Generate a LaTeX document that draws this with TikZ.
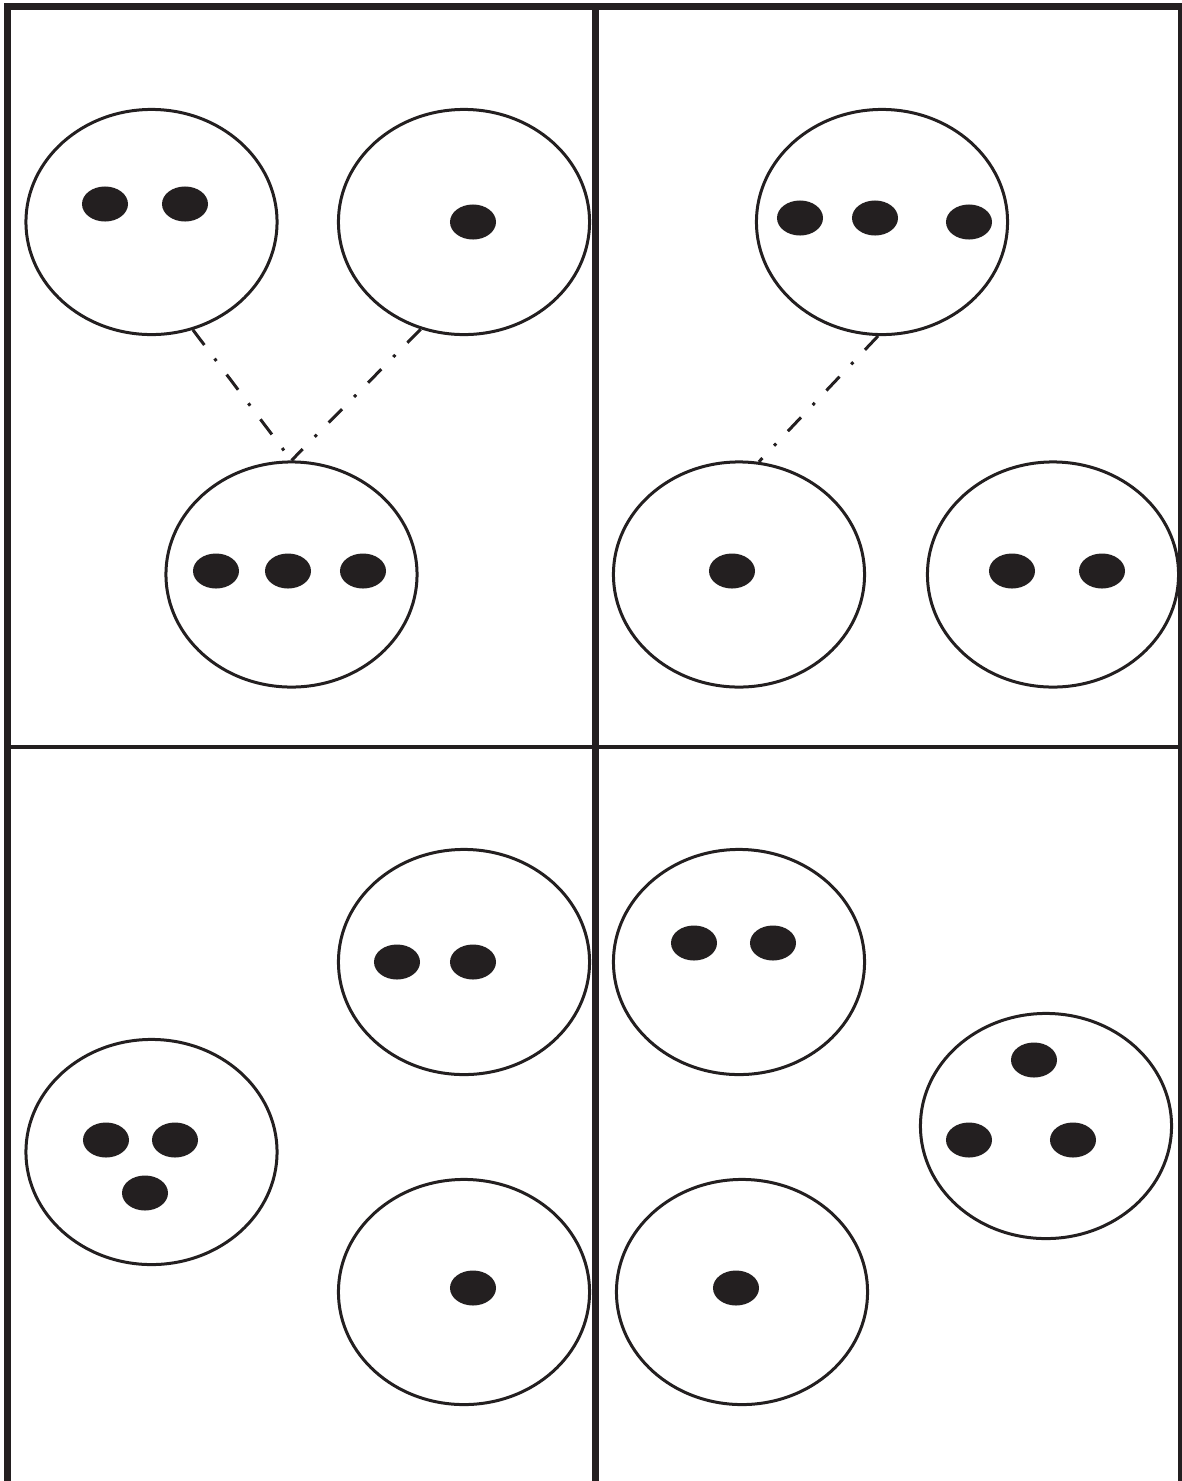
\documentclass[tikz,border=0pt]{standalone}
\usepackage{tikz}
\usetikzlibrary{shapes.geometric}
\definecolor{ink}{HTML}{231F20}

\begin{document}
\begin{tikzpicture}[
  x=0.01cm, y=-0.01cm,
  frame/.style={draw=ink, line width=0.07cm, line join=miter},
  divider/.style={draw=ink, line width=0.04cm},
  cell/.style={ellipse, draw=ink, line width=0.03cm, fill=none,
               minimum width=2.51cm, minimum height=2.25cm, inner sep=0pt},
  dot/.style={ellipse, fill=ink, draw=none,
              minimum width=0.46cm, minimum height=0.35cm, inner sep=0pt},
  link/.style={draw=ink, line width=0.03cm,
               dash pattern=on 0.19cm off 0.17cm on 0.03cm off 0.17cm}
]
  \useasboundingbox (0,0) rectangle (1182,1481);

  % panel frame
  \draw[frame] (7.5,1481) -- (7.5,6.5) -- (1181,6.5) -- (1181,1481);
  \draw[frame] (595.5,6.5) -- (595.5,1481);
  \draw[divider] (11,747) -- (1178,747);

  % top left
  \node[cell] (e1) at (151.5,222) {};
  \node[dot] (e1a) at (105,204) {};
  \node[dot] (e1b) at (185,204) {};
  \node[cell] (e2) at (464,222) {};
  \node[dot] (e2a) at (473,222) {};
  \node[cell] (e3) at (291.5,574.5) {};
  \node[dot] (e3a) at (216,571) {};
  \node[dot] (e3b) at (288,571) {};
  \node[dot] (e3c) at (363,571) {};
  \draw[link] (e1.291) -- (e3.north);
  \draw[link] (e2.248) -- (e3.north);

  % top right
  \node[cell] (e4) at (882,222) {};
  \node[dot] (e4a) at (800,218) {};
  \node[dot] (e4b) at (875,218) {};
  \node[dot] (e4c) at (969,222) {};
  \node[cell] (e5) at (739,574.5) {};
  \node[dot] (e5a) at (732,571) {};
  \node[cell] (e6) at (1053,574.5) {};
  \node[dot] (e6a) at (1012,571) {};
  \node[dot] (e6b) at (1102,571) {};
  \draw[link] (e4.268) -- (e5.80);

  % bottom left
  \node[cell] (e7) at (464,962) {};
  \node[dot] (e7a) at (397,962) {};
  \node[dot] (e7b) at (473,962) {};
  \node[cell] (e8) at (151.5,1152) {};
  \node[dot] (e8a) at (106,1140) {};
  \node[dot] (e8b) at (175,1140) {};
  \node[dot] (e8c) at (145,1193) {};
  \node[cell] (e9) at (464,1292) {};
  \node[dot] (e9a) at (473,1288) {};

  % bottom right
  \node[cell] (e10) at (739,962) {};
  \node[dot] (e10a) at (694,943) {};
  \node[dot] (e10b) at (773,943) {};
  \node[cell] (e11) at (1046,1126) {};
  \node[dot] (e11a) at (1034,1060) {};
  \node[dot] (e11b) at (969,1140) {};
  \node[dot] (e11c) at (1073,1140) {};
  \node[cell] (e12) at (742,1292) {};
  \node[dot] (e12a) at (736,1288) {};
\end{tikzpicture}
\end{document}
